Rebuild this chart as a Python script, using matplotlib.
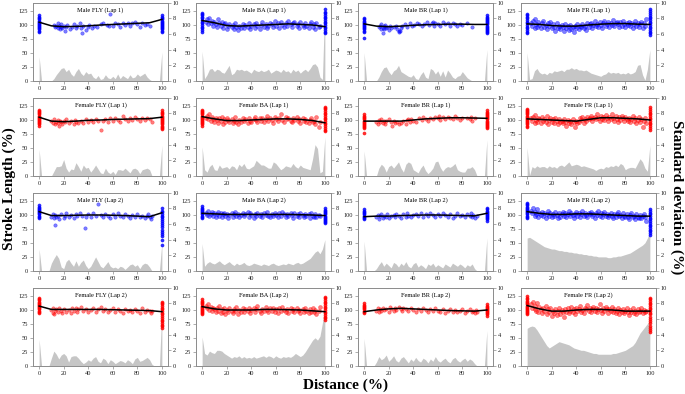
import numpy as np
import matplotlib
matplotlib.use("Agg")
import matplotlib.pyplot as plt

plt.rcParams['font.family'] = ['Liberation Serif', 'DejaVu Serif']

# ---------------- data ----------------
fit_x = [0, 10, 20, 30, 40, 50, 60, 70, 80, 90, 100]

ba_x = [3,4,5,6,7,8,9,10,11,12, 13,14,15,16,17,18,19,20,21,22, 24,25,26,27,28,29,30,32,33,34,
        35,37,38,39,40,42,43,44,45,47, 48,49,50,52,53,54,55,57,58,59, 60,62,63,64,65,67,68,69,70,72,
        73,74,75,77,78,79,80,82,83,84, 85,87,88,89,90,91,92,93,95,96]
fr_x = [3,4,5,6,6,7,8,9,10,11, 12,13,14,15,16,17,18,19,20,21, 22,23,24,25,26,27,28,29,30,31,
        32,33,34,35,36,37,38,39,40,41, 42,43,44,45,46,47,48,49,50,51, 52,53,54,55,56,57,58,59,60,61,
        62,63,64,65,66,67,68,69,70,71, 72,73,74,75,76,77,78,79,80,81, 82,83,84,85,86,87,88,89,90,91,
        92,93,94,95,96,97]

# Male FLY Lap 1
mfly1_x = [12,13,14,15,15,16,17,18,18,19, 20,21,22,23,25,27,28,30,31,33, 34,35,36,38,40,41,43,45,47,50,
           52,55,57,58,60,62,64,66,68,70, 72,74,76,78,80,82,84,86,88,90]
mfly1_y = [100,96,98,103,94,99,92,97,101,95, 98,90,96,100,93,97,102,95,99,104, 94,86,98,91,97,100,95,99,96,101,
           103,100,98,120,99,104,101,97,103,100, 104,99,103,106,101,97,104,100,102,98]
mfly1_y0 = [88,90,92,94,96,98,100,102,104,106,108,110,112,114,117]
mfly1_y100 = [88,90,92,94,96,98,100,102,104,106,108,110,112,114,117]
mfly1_fit = [105, 98.5, 97, 97.5, 98.5, 100, 101, 102, 103, 104, 110]
mfly1_sd = [3.1,0,0,0,0,0, 0.3,0.8,1.2,1.6,1.7,1.2,1.5,0.9,0.6,1.2,1.6,1.0,0.7,1.2,0.9,1.0,0.5,0.3,0.7,0.2,
            0.3,0.8,0.4,0.3,0.6,0.3,0.9,0.3,0.7,0.5,0.3,0.8,0.4,0.5,0.9,0.6,0.8,1.0,0.5,0.2, 0,0,0,0,3.7]

# Male BA Lap 1
mba1_y = [106,110,102,112,104,108,99,105,101,97, 110,103,99,106,95,101,104,92,98,102, 96,100,93,103,97,91,99,95,102,94,
          100,97,104,92,99,101,95,103,98,93, 100,106,97,102,95,99,104,101,96,107, 99,103,95,105,100,97,104,99,108,101,
          96,103,106,99,102,94,105,100,97,103, 99,95,102,106,97,101,93,104,96,99]
mba1_y0 = [88,91,94,97,100,103,106,109,112,115,118,120,122]
mba1_y100 = [85,88,91,94,97,100,103,106,109,112,115,118,121,124,128]
mba1_fit = [108, 104, 99, 98, 99, 100, 101, 102, 101, 100, 97]
mba1_sd = [3.8,0.3,0.8,1.5,1.6,1.2, 1.5,1.4,1.1,1.0,1.5, 2.0,0.8,1.0,1.5,1.4, 1.5,1.3,1.4,1.2,1.0, 1.5,1.3,1.2,1.4,1.2,
           1.3,1.5,1.0,1.2,1.4, 1.3,1.1,1.5,1.2,1.3, 1.0,1.5,1.2,1.4,1.0, 1.3,1.5,1.2,1.6,2.1, 2.2,1.8,0.5,0.2,10]

# Male BR Lap 1
mbr1_x = [12,13,14,14,15,15,16,16,17,18, 19,20,21,22,24,26,27,28,28,29, 30,31,33,35,37,39,41,43,45,47,
          49,51,53,55,56,57,58,60,62,64, 66,68,70,72,74,76,78,80,84,88]
mbr1_y = [96,99,93,101,95,85,98,92,100,94, 97,91,99,95,96,98,93,88,90,89, 95,99,101,97,103,99,100,104,102,98,
          101,105,100,103,106,99,104,102,98,105, 101,103,99,104,101,98,102,100,103,97]
mbr1_y0 = [77,88,90,92,94,96,98,100,102,104,106,108,110,113]
mbr1_y100 = [85,87,89,91,93,95,97,99,101,103,105,107,109,111,113,115,118]
mbr1_fit = [102, 98, 97, 98, 99.5, 100.5, 101, 101.5, 101.5, 101, 101]
mbr1_sd = [3.6,0,0,0,0,0, 0.5,1.2,1.7,1.8,1.2,0.8,1.3,1.5,2.0,1.2,1.0,0.8,0.6,0.5,0.8,0.3,0.2,0.8,1.2,0.5,
           0.3,1.6,1.4,0.9,1.3,0.6,1.3,0.5,1.4,1.0,0.5,0.3,0.6,0.7,1.2,0.8,0.4,0.2, 0,0,0,0,0,0,4.0]

# Male FR Lap 1
mfr1_y = [104,99,107,95,110,101,97,105,100,94, 103,108,96,100,92,104,99,106,95,101, 97,90,103,94,99,92,100,96,89,102,
          95,98,91,100,93,97,88,99,95,101, 92,98,96,102,94,99,91,103,97,101, 104,95,100,107,98,102,96,105,100,94,
          103,108,99,101,106,97,104,100,109,98, 103,106,101,96,105,99,108,102,97,104, 100,106,98,103,95,102,107,99,104,97,
          101,106,95,103,99,110]
mfr1_y0 = [85,88,91,94,97,100,103,106,109,112,115,118,120]
mfr1_y100 = [82,85,88,91,94,97,100,103,106,109,112,115,118,121,125,128]
mfr1_fit = [102, 101, 99, 98, 98, 100, 101.5, 102.5, 102.5, 101.5, 101]
mfr1_sd = [3.6,0.2,0.3,1.3,1.6,1.1, 0.9,1.0,0.8,1.1,1.0, 1.3,1.2,1.3,1.4,1.2, 1.5,1.5,1.7,1.5,1.6, 1.4,1.4,1.3,1.4,1.2,
           1.0,0.9,0.8,0.7,0.6, 0.8,0.9,1.2,1.0,1.1, 1.0,1.1,0.9,1.0,0.9, 1.1,0.9,1.0,1.2,2.0, 2.1,0.8,0.1,1.5,4.0]

# Female FLY Lap 1
ffly1_x = [10,11,12,13,14,15,15,16,17,18, 19,20,21,22,24,26,28,29,30,32, 34,36,38,40,42,44,46,48,50,52,
           54,56,58,60,62,64,66,68,70,72, 74,76,78,80,82,84,86,88,90,92]
ffly1_y = [99,95,101,92,97,94,100,90,98,96, 93,99,96,101,95,98,93,100,97,95, 99,94,101,97,100,96,102,99,83,98,
           101,97,103,99,104,100,97,108,102,99, 104,100,106,102,98,103,100,104,101,97]
ffly1_y0 = [90,92,94,96,98,100,102,104,106,108,110,112,114,116,118]
ffly1_y100 = [84,86,88,90,92,94,96,98,100,102,104,106,108,110,112,114,117]
ffly1_fit = [105, 98, 97, 98, 99.5, 100, 101, 101.5, 102, 102.5, 105]
ffly1_sd = [3.4,0,0,0,0,0, 0.6,1.2,1.2,1.3,2.1, 1.0,0.5,0.9,0.8,1.7, 1.2,0.6,1.4,1.0,1.1, 0.5,0.9,1.4,0.9,0.4,
            0.3,1.0,0.5,0.3,0.6, 0.2,0.8,0.8,0.7,1.0, 0.7,0.4,0.9,1.0,0.8, 0.3,0.8,0.9,1.0,0.8, 0,0,0,0,3.9]

# Female BA Lap 1
fba1_y = [104,108,101,110,99,106,102,97,104,100, 95,103,99,106,93,101,97,104,100,96, 102,94,99,105,97,92,100,96,103,98,
          101,95,104,99,97,102,106,100,96,103, 99,104,97,101,108,98,103,100,95,106, 102,98,104,111,100,97,105,101,103,99,
          96,104,100,106,98,102,95,103,99,101, 97,94,100,103,96,98,92,105,88,97]
fba1_y0 = [90,92,94,96,98,100,102,104,106,108,110,112,114,116,118]
fba1_y100 = [80,83,86,89,92,95,98,101,104,107,110,113,116,119,122,124]
fba1_fit = [106, 102, 99, 99, 100, 101, 102, 102, 101, 99, 95]
fba1_sd = [3.7,0.8,0.5,1.2,1.5,0.8, 0.7,1.4,1.0,1.1,1.2, 0.9,1.3,1.2,0.8,1.5, 1.2,1.6,1.0,0.9,1.1, 1.3,2.0,1.7,1.4,1.4,
           1.2,1.0,1.0,1.8,1.6, 1.2,0.8,1.0,1.3,1.2, 1.1,1.6,1.2,1.0,1.4, 1.1,1.0,0.9,0.8,2.2, 4.0,3.5,0.4,0.6,5.0]

# Female BR Lap 1
fbr1_x = [10,11,12,13,14,15,16,17,18,20, 22,23,24,25,27,28,30,32,34,35, 36,37,38,40,42,45,47,48,50,52,
          54,56,58,60,61,62,64,66,68,70, 72,74,76,78,80,84,86,87,88,90]
fbr1_y = [97,93,100,96,102,95,99,92,98,101, 96,90,99,94,97,93,95,98,92,100, 102,96,101,99,97,103,100,105,102,99,
          104,101,106,103,108,100,105,102,106,103, 101,107,104,100,103,104,101,106,99,103]
fbr1_y0 = [77,85,87,89,91,93,95,97,99,101,103,105,107,110]
fbr1_y100 = [85,87,89,91,93,95,97,99,101,103,105,107,109,111,113,115,118]
fbr1_fit = [98, 98, 98, 98, 100, 102, 103, 104, 104, 103.5, 103]
fbr1_sd = [3.2,0,0,0,0,0, 1.0,1.5,1.2,0.5,1.2, 1.4,1.0,1.4,1.8,1.0, 0.5,1.5,1.8,1.6,0.8, 0.6,0.4,1.0,1.4,0.7,
           0.3,0.6,1.0,1.8,1.9, 1.1,0.6,1.0,1.2,1.1, 1.3,1.6,0.8,0.6,0.5, 0.5,1.0,1.0,1.2,0.8, 0,0,0,0,4.6]

# Female FR Lap 1
ffr1_y = [103,98,106,95,109,100,97,104,101,94, 105,99,102,96,107,93,100,104,97,101, 95,103,98,92,101,96,99,94,102,97,
          90,100,95,98,92,101,96,88,99,94, 97,103,100,106,95,102,98,105,101,104, 108,99,103,106,101,110,104,99,107,102,
          105,100,109,103,98,106,101,111,104,99, 107,102,97,105,100,108,103,98,106,101, 99,104,96,102,107,98,103,95,100,105,
          97,102,87,99,104,94]
ffr1_y0 = [88,90,92,94,96,98,100,102,104,106,108,110,112,114,116,118,120]
ffr1_y100 = [83,86,89,92,95,98,101,104,107,110,113,116,119,123]
ffr1_fit = [102, 101, 100, 99, 98, 101, 104, 104, 103, 102, 100]
ffr1_sd = [3.6,0.1,1.2,1.0,1.3,1.1, 1.2,1.2,1.0,1.3,1.1, 1.2,1.0,1.3,1.4,1.2, 1.5,1.8,1.3,1.4,1.5, 1.4,1.2,1.3,1.2,1.1,
           1.0,0.9,0.7,0.9,1.0, 0.9,1.2,1.1,1.3,1.2, 1.4,1.2,1.6,1.4,0.8, 1.0,1.1,1.1,1.0,1.6, 2.2,1.8,1.0,0.6,3.9]

# Male FLY Lap 2
mfly2_x = [10,11,12,13,13,14,15,16,18,20, 21,22,24,26,28,30,31,33,35,37, 38,40,42,44,46,48,50,52,54,56,
           58,60,62,64,66,68,70,72,74,76, 78,80,82,84,86,88,89,90,91,92]
mfly2_y = [97,102,94,100,83,96,99,92,101,95, 98,103,97,100,94,102,98,104,99,77, 96,101,97,103,99,120,100,96,102,98,
           95,101,97,103,99,96,102,98,95,100, 97,101,96,99,94,98,101,96,93,99]
mfly2_y0 = [95,97,99,101,103,105,107,109,111,113,115,117]
mfly2_y100 = [47,56,62,66,70,74,78,82,86,90,93,96,99,102,105,108,112]
mfly2_fit = [106, 99, 99, 99.5, 100, 100, 99.5, 99, 98, 97, 104]
mfly2_sd = [2.8,0,0,0,0, 1.0, 1.6,2.1,1.6,0.5,0.3, 1.2,1.5,1.0,0.6,1.3, 0.6,1.1,1.4,0.7,0.3, 0.6,1.2,1.8,1.2,0.6,
            0.4,0.8,1.2,0.6,0.4, 0.5,0.3,0.6,0.5,0.2, 0.5,0.8,0.9,0.6,0.8, 0.3,0.8,1.0,0.9,0.5, 0,0,0,0,3.6]

# Male BA Lap 2
mba2_y = [104,100,107,98,102,105,99,103,97,101, 106,99,103,96,101,104,98,102,95,100, 103,97,101,105,99,102,96,100,104,98,
          101,106,97,103,100,95,102,99,104,98, 101,97,103,100,105,99,96,102,98,104, 100,97,103,99,106,101,96,102,98,104,
          100,95,103,99,101,97,104,100,96,102, 98,101,94,103,99,97,102,96,100,98]
mba2_y0 = [95,97,99,101,103,105,107,109,111,113,116]
mba2_y100 = [85,87,89,91,93,95,97,99,101,103,105,107,109,112]
mba2_fit = [103, 102, 101, 101, 101, 101, 101, 101, 100.5, 100, 99]
mba2_sd = [3.5,0.6,1.0,1.2,1.0,0.9, 1.1,1.3,1.0,0.8,1.0, 1.2,0.9,0.7,1.0,0.8, 0.9,1.1,0.8,0.7,0.8, 1.0,0.9,0.8,0.7,0.9,
           0.8,0.7,0.9,1.0,0.8, 0.7,0.8,0.9,0.8,1.0, 0.9,0.8,1.0,1.1,0.9, 1.0,1.2,1.4,1.6,2.0, 2.4,2.6,2.2,2.8,4.0]

# Male BR Lap 2
mbr2_x = [10,11,12,13,14,15,16,18,19,20, 22,24,25,26,28,30,32,34,35,36, 38,40,42,44,46,48,50,52,54,56,
          58,60,62,64,66,68,70,72,74,76, 78,80,82,84,86,87,88,89,90,92]
mbr2_y = [96,100,93,98,102,95,99,97,101,94, 98,100,96,102,99,95,101,97,103,99, 96,100,102,98,104,97,101,99,103,100,
          96,102,98,104,100,97,101,95,99,103, 98,100,96,101,99,103,97,100,95,99]
mbr2_y0 = [93,95,97,99,101,103,105,107,110]
mbr2_y100 = [90,92,94,96,98,100,102,104,106,108,110,112]
mbr2_fit = [97, 98, 98, 99, 99.5, 100, 100, 99.5, 99, 98.5, 103]
mbr2_sd = [3.8,0,0,0,0,0.3, 0.8,1.2,0.6,1.0,0.7, 0.4,1.1,0.9,0.5,1.0, 0.7,1.2,0.6,0.4,0.9, 1.1,0.5,0.8,0.6,0.3,
           0.9,0.7,1.0,0.5,0.8, 0.6,0.4,0.9,0.7,0.5, 1.0,0.8,0.6,0.9,0.7, 0.4,0.8,0.6,0.9,0.3, 0,0,0,0,4.2]

# Male FR Lap 2
mfr2_y = [108,103,112,99,106,101,110,97,104,100, 106,98,103,95,101,107,99,104,96,102, 98,105,100,94,103,97,101,106,99,103,
          96,101,107,98,104,100,95,102,106,99, 103,97,101,108,99,104,100,96,103,101, 106,98,102,95,104,100,107,99,103,97,
          101,105,98,102,96,100,104,99,94,102, 97,101,105,98,100,95,103,99,96,101, 97,92,100,104,96,99,93,101,97,95,
          100,94,98,102,96,90]
mfr2_y0 = [95,97,99,101,103,105,107,109,111,113,115,117,119,122]
mfr2_y100 = [65,68,71,74,77,80,83,86,89,92,95,98,101,104,107,110]
mfr2_fit = [106, 103, 101, 101, 102, 102, 101, 100, 99, 98, 98]
mfr2_sd = [4.2,4.3,4.1,3.9,3.7,3.5, 3.3,3.1,3.0,2.9,2.8, 2.8,2.7,2.6,2.6,2.5, 2.5,2.4,2.4,2.3,2.3, 2.2,2.2,2.1,2.1,2.0,
           2.0,1.9,1.9,1.8,1.8, 1.8,1.8,1.7,1.7,1.8, 1.8,1.9,1.9,2.0,2.1, 2.2,2.3,2.5,2.7,2.9, 3.1,3.3,3.6,4.2,5.0]

# Female FLY Lap 2
ffly2_x = [10,11,11,12,13,14,15,16,18,19, 20,22,24,26,27,28,30,31,32,34, 36,38,40,42,44,46,48,50,52,54,
           56,58,60,62,64,66,68,70,72,74, 76,78,80,82,84,86,88,90,91,92]
ffly2_y = [100,95,104,92,98,101,96,103,99,94, 102,97,100,95,104,99,103,97,101,106, 99,102,96,100,103,97,101,105,98,102,
           96,100,103,97,101,99,95,102,98,100, 96,101,99,94,103,97,100,98,95,99]
ffly2_y0 = [95,97,99,101,103,105,107,109,111,113,115,117,119,122]
ffly2_y100 = [68,71,74,77,80,83,86,89,92,95,98,101,104,107,110,113,115]
ffly2_fit = [107, 101, 101, 101, 101, 101, 100.5, 100, 99.5, 99, 97]
ffly2_sd = [3.4,0,0,0,0, 1.0, 1.9,1.5,0.9,1.4,1.6, 1.3,0.5,1.2,1.3,1.3, 1.0,0.6,0.3,0.5,0.8, 0.6,1.0,1.2,0.6,0.4,
            1.0,0.8,0.3,0.8,0.6, 0.3,0.5,0.7,0.6,0.4, 0.8,0.6,0.3,0.9,1.1, 0.6,0.7,0.9,1.1,0.8, 0.2,0,0,0,7.0]

# Female BA Lap 2
fba2_y = [108,103,111,100,106,98,104,101,96,103, 99,107,94,101,97,104,92,100,96,103, 99,95,102,98,105,93,100,97,103,96,
          101,98,104,94,100,103,97,101,107,99, 95,102,98,105,100,96,103,99,104,97, 101,94,103,99,106,100,97,102,95,104,
          99,101,96,103,98,100,94,102,97,104, 99,95,101,97,103,96,100,92,98,105]
fba2_y0 = [92,94,96,98,100,102,104,106,108,110,112,114,116,120]
fba2_y100 = [82,85,88,91,94,97,100,103,106,109,112,115,118,121,124]
fba2_fit = [106, 102, 100, 100, 100, 101, 101, 100.5, 100, 98.5, 97]
fba2_sd = [3.7,1.6,1.4,1.9,1.7,1.6, 2.0,2.0,1.9,1.6,1.4, 1.2,1.0,1.2,1.1,1.3, 1.0,1.2,1.0,1.1,1.0, 1.2,1.0,1.1,1.2,1.3,
           1.1,1.3,1.2,1.0,1.3, 1.1,1.0,1.2,1.1,1.2, 1.1,1.3,1.6,1.4,1.2, 1.4,1.8,2.3,2.8,3.3, 3.6,3.3,3.8,5.5,7.5]

# Female BR Lap 2
fbr2_x = [10,11,12,13,14,15,16,18,20,21, 22,24,25,26,28,30,31,32,34,36, 38,40,42,44,46,48,50,52,54,56,
          58,60,62,64,66,68,70,72,74,76, 78,80,82,84,86,88,89,90,91,92]
fbr2_y = [99,103,96,101,98,104,100,102,97,105, 101,99,104,100,106,102,98,104,101,99, 103,100,97,102,99,104,100,96,101,98,
          103,99,97,101,95,99,102,97,100,96, 99,101,95,98,102,97,99,95,100,97]
fbr2_y0 = [95,97,99,101,103,105,107,109,112]
fbr2_y100 = [90,92,94,96,98,100,102,104,106,108,110]
fbr2_fit = [97, 100, 102, 103, 102, 101, 100, 99, 98.5, 98, 100]
fbr2_sd = [3.5,0,0,0,0,0.5, 1.2,0.8,1.0,1.4,0.6, 0.9,1.3,0.7,0.5,1.0, 1.2,0.8,0.4,0.9,0.6, 1.1,0.7,0.5,1.0,0.8,
           0.4,0.9,0.6,1.2,0.7, 0.5,0.8,1.0,0.6,0.4, 0.9,1.1,0.7,0.5,0.8, 1.0,0.6,0.9,0.7,0.3, 0,0,0,0,4.5]

# Female FR Lap 2
ffr2_y = [110,104,114,101,107,99,112,96,105,101, 94,103,98,108,92,101,96,104,89,99, 95,102,91,98,104,93,100,96,88,101,
          97,103,94,99,106,96,101,92,104,98, 102,107,97,100,95,104,101,109,98,103, 96,101,106,99,104,97,102,110,100,95,
          103,98,106,101,94,102,99,105,97,101, 95,99,104,93,100,97,102,94,99,103, 96,91,100,97,104,94,99,92,101,96,
          98,103,94,100,96,99]
ffr2_y0 = [92,94,96,98,100,102,104,106,108,110,112,114,116,119,122,125]
ffr2_y100 = [60,64,68,72,76,80,84,88,92,95,98,101,104,107,110,113,116,119,122]
ffr2_fit = [108, 102, 98, 98, 100, 101, 101, 100, 98, 98, 98]
ffr2_sd = [4.8,5.0,5.1,5.0,4.6,4.1, 3.6,3.1,2.6,2.3,2.5, 2.7,2.9,3.1,3.0,2.9, 2.8,2.7,2.5,2.3,2.2, 2.1,2.0,2.0,1.9,1.8,
           1.7,1.6,1.6,1.5,1.5, 1.5,1.5,1.5,1.5,1.6, 1.6,1.7,1.8,1.9,2.0, 2.2,2.4,2.6,3.0,3.6, 4.2,4.6,5.0,5.4,5.8]

BLUE = '#0000ff'
RED = '#ff0000'

# title, colour, x, y, y at 0, y at 100, fit, sd, marker size
panels = [
    ("Male FLY (Lap 1)", BLUE, mfly1_x, mfly1_y, mfly1_y0, mfly1_y100, mfly1_fit, mfly1_sd, 6),
    ("Male BA (Lap 1)", BLUE, ba_x, mba1_y, mba1_y0, mba1_y100, mba1_fit, mba1_sd, 8),
    ("Male BR (Lap 1)", BLUE, mbr1_x, mbr1_y, mbr1_y0, mbr1_y100, mbr1_fit, mbr1_sd, 6),
    ("Male FR (Lap 1)", BLUE, fr_x, mfr1_y, mfr1_y0, mfr1_y100, mfr1_fit, mfr1_sd, 9),
    ("Female FLY (Lap 1)", RED, ffly1_x, ffly1_y, ffly1_y0, ffly1_y100, ffly1_fit, ffly1_sd, 6),
    ("Female BA (Lap 1)", RED, ba_x, fba1_y, fba1_y0, fba1_y100, fba1_fit, fba1_sd, 8),
    ("Female BR (Lap 1)", RED, fbr1_x, fbr1_y, fbr1_y0, fbr1_y100, fbr1_fit, fbr1_sd, 6),
    ("Female FR (Lap 1)", RED, fr_x, ffr1_y, ffr1_y0, ffr1_y100, ffr1_fit, ffr1_sd, 9),
    ("Male FLY (Lap 2)", BLUE, mfly2_x, mfly2_y, mfly2_y0, mfly2_y100, mfly2_fit, mfly2_sd, 6),
    ("Male BA (Lap 2)", BLUE, ba_x, mba2_y, mba2_y0, mba2_y100, mba2_fit, mba2_sd, 8),
    ("Male BR (Lap 2)", BLUE, mbr2_x, mbr2_y, mbr2_y0, mbr2_y100, mbr2_fit, mbr2_sd, 6),
    ("Male FR (Lap 2)", BLUE, fr_x, mfr2_y, mfr2_y0, mfr2_y100, mfr2_fit, mfr2_sd, 9),
    ("Female FLY (Lap 2)", RED, ffly2_x, ffly2_y, ffly2_y0, ffly2_y100, ffly2_fit, ffly2_sd, 6),
    ("Female BA (Lap 2)", RED, ba_x, fba2_y, fba2_y0, fba2_y100, fba2_fit, fba2_sd, 8),
    ("Female BR (Lap 2)", RED, fbr2_x, fbr2_y, fbr2_y0, fbr2_y100, fbr2_fit, fbr2_sd, 6),
    ("Female FR (Lap 2)", RED, fr_x, ffr2_y, ffr2_y0, ffr2_y100, ffr2_fit, ffr2_sd, 9),
]

# ---------------- layout ----------------
FW, FH = 685, 394
fig = plt.figure(figsize=(FW / 100, FH / 100), dpi=100)
col_left = [33, 196, 358, 521]
row_bottom = [81, 176, 271, 366]
AW, AH = 135, 78.4
SPINE = '#8c8c8c'
TFS = 4.6

for i, (title, col, px, py, y0, y100, fit, sd, ms) in enumerate(panels):
    r, c = divmod(i, 4)
    ax = fig.add_axes([col_left[c] / FW, 1 - row_bottom[r] / FH, AW / FW, AH / FH])
    ax2 = ax.twinx()
    ax.set_zorder(ax2.get_zorder() + 1)
    ax.patch.set_visible(False)

    sdx = np.linspace(0, 100, len(sd))
    ax2.fill_between(sdx, 0, sd, color='#c6c6c6', lw=0)
    ax2.set_ylim(0, 10)
    ax2.set_yticks([0, 2, 4, 6, 8, 10])

    n = min(len(px), len(py))
    ax.scatter(px[:n], py[:n], s=ms, facecolors=col, edgecolors=col, alpha=0.5, linewidths=0.4, zorder=3)
    ax.scatter([0] * len(y0), y0, s=5, facecolors=col, edgecolors=col, alpha=0.8, linewidths=0.4, zorder=3)
    ax.scatter([100] * len(y100), y100, s=5, facecolors=col, edgecolors=col, alpha=0.8, linewidths=0.4, zorder=3)
    ax.plot(fit_x, fit, color='black', lw=1.1, zorder=4)

    ax.set_xlim(-5, 105)
    ax.set_ylim(0, 140)
    ax.set_xticks([0, 20, 40, 60, 80, 100])
    ax.set_yticks([0, 25, 50, 75, 100, 125])
    ax.text(0.5, 0.91, title, transform=ax.transAxes, ha='center', va='center', fontsize=TFS)

    for a in (ax, ax2):
        for s in a.spines.values():
            s.set_color(SPINE)
            s.set_linewidth(0.6)
        a.tick_params(labelsize=TFS, length=2, width=0.5, color=SPINE, pad=1.5, labelcolor='#222222')

fig.text(0.013, 0.52, "Stroke Length (%)", rotation=90, ha='center', va='center',
         fontsize=11, fontweight='bold')
fig.text(0.988, 0.5, "Standard deviation (%)", rotation=270, ha='center', va='center',
         fontsize=11, fontweight='bold')
fig.text(0.504, 0.022, "Distance (%)", ha='center', va='center', fontsize=11, fontweight='bold')

fig.savefig("out.png", dpi=100)
